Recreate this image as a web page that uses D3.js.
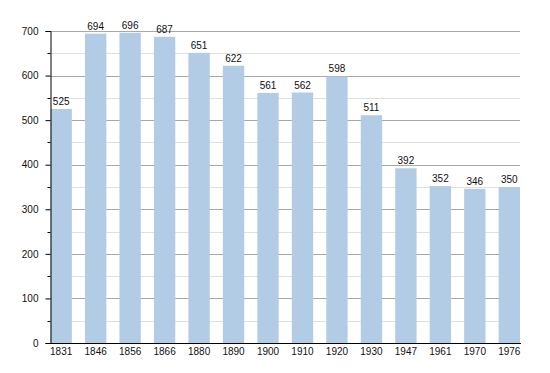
<!DOCTYPE html>
<html>
<head>
<meta charset="utf-8">
<script src="https://cdn.jsdelivr.net/npm/d3@7"></script>
<style>
  body { margin: 0; background: #fff; }
  text { font-family: "Liberation Sans", Arial, sans-serif; font-size: 10px; fill: #111; }
</style>
</head>
<body>
<div id="chart"></div>
<script>
  var years = ["1831", "1846", "1856", "1866", "1880", "1890", "1900", "1910", "1920", "1930", "1947", "1961", "1970", "1976"];
  var population = [525, 694, 696, 687, 651, 622, 561, 562, 598, 511, 392, 352, 346, 350];
  var yTicks = [0, 100, 200, 300, 400, 500, 600, 700];
  var yMinor = [50, 150, 250, 350, 450, 550, 650];

  var width = 550, height = 373;
  var margin = {top: 31, right: 30, bottom: 30, left: 50.5};

  var svg = d3.select("#chart")
    .append("svg")
    .attr("width", width)
    .attr("height", height);

  var x = d3.scaleBand()
    .domain(years)
    .range([margin.left, width - margin.right])
    .paddingInner(0.38)
    .paddingOuter(0);

  var y = d3.scaleLinear()
    .domain([0, 700])
    .range([height - margin.bottom, margin.top]);

  // grid (minor lighter, major darker)
  svg.append("g").selectAll("line")
    .data(yMinor)
    .enter().append("line")
    .attr("x1", margin.left).attr("x2", width - margin.right)
    .attr("y1", function(d){ return Math.round(y(d)) + 0.5; })
    .attr("y2", function(d){ return Math.round(y(d)) + 0.5; })
    .attr("stroke", "#e0e0e0");

  svg.append("g").selectAll("line")
    .data(yTicks.slice(1))
    .enter().append("line")
    .attr("x1", margin.left).attr("x2", width - margin.right)
    .attr("y1", function(d){ return Math.round(y(d)) + 0.5; })
    .attr("y2", function(d){ return Math.round(y(d)) + 0.5; })
    .attr("stroke", "#a8a8a8");

  // bars
  svg.append("g").selectAll("rect")
    .data(population)
    .enter().append("rect")
    .attr("x", function(d, i){ return x(years[i]); })
    .attr("width", x.bandwidth())
    .attr("y", function(d){ return y(d); })
    .attr("height", function(d){ return y(0) - y(d); })
    .attr("fill", "#b3cce5");

  // value labels
  svg.append("g").selectAll("text")
    .data(population)
    .enter().append("text")
    .attr("x", function(d, i){ return x(years[i]) + x.bandwidth() / 2; })
    .attr("y", function(d){ return y(d) - 4; })
    .attr("text-anchor", "middle")
    .text(function(d){ return d; });

  // y axis
  var yAxis = svg.append("g")
    .attr("transform", "translate(" + margin.left + ",0)")
    .call(d3.axisLeft(y).tickValues(yTicks).tickSize(5).tickPadding(7));
  yAxis.select(".domain").attr("stroke", "#000");
  yAxis.selectAll("text").style("font-size", "10px").attr("fill", "#111");

  svg.append("g").selectAll("line")
    .data(yMinor)
    .enter().append("line")
    .attr("x1", margin.left - 3).attr("x2", margin.left)
    .attr("y1", function(d){ return Math.round(y(d)) + 0.5; })
    .attr("y2", function(d){ return Math.round(y(d)) + 0.5; })
    .attr("stroke", "#000");

  // x axis
  var xAxis = svg.append("g")
    .attr("transform", "translate(0," + y(0) + ")")
    .call(d3.axisBottom(x).tickSize(0).tickPadding(5));
  xAxis.select(".domain").attr("stroke", "#000").attr("d", "M" + margin.left + ",0.5H" + (width - margin.right + 1));
  xAxis.selectAll("text").style("font-size", "10px").attr("fill", "#111");
</script>
</body>
</html>
